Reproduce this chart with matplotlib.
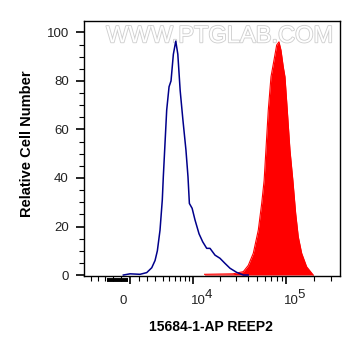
import numpy as np
import matplotlib
matplotlib.use("Agg")
import matplotlib.pyplot as plt
from matplotlib.ticker import FixedLocator, NullFormatter
from matplotlib import transforms
import matplotlib.patheffects as pe

# ---- data (fluorescence intensity, relative cell number) ----
blue_x = [-750, 0, 1120, 1910, 2530, 2960, 3270, 3640, 3970, 4120, 4640, 5020,
          5350, 5760, 6200, 6590, 7060, 7630, 8310, 8790, 9130, 9830, 10610,
          11790, 12960, 14360, 15610, 17700, 20040, 22690, 25660, 30230, 35570, 40000]
blue_y = [0, 0.5, 0.3, 1.0, 3.0, 6.0, 10.0, 18.5, 31.0, 40.5, 68.0, 77.6,
          80.0, 91.0, 96.4, 91.0, 76.0, 64.0, 51.5, 40.5, 29.5, 27.5, 22.7,
          17.0, 13.7, 11.0, 11.0, 8.2, 6.9, 4.8, 2.8, 1.1, 0.0, 0.0]

red_x = [13600, 27650, 35570, 40160, 45360, 51200, 55610, 59000, 65270,
         69690, 74980, 80000, 84590, 88780, 93890, 97840, 103450, 110450,
         118500, 126820, 135060, 146600, 165460, 194170]
red_y = [0.3, 0.5, 1.4, 4.0, 9.0, 18.5, 29.5, 39.0, 68.0,
         81.7, 88.6, 94.8, 96.1, 92.7, 85.8, 81.7, 68.0, 51.5,
         39.0, 25.4, 15.8, 9.0, 3.4, 0.0]

# events piled at the axis just below zero
below_zero_x = [-2700, -250]

y_ticks = [0, 20, 40, 60, 80, 100]
y_minor = [5, 10, 15, 25, 30, 35, 45, 50, 55, 65, 70, 75, 85, 90, 95]
x_major = [0, 1e4, 1e5]
x_major_base = ["0", "10", "10"]
x_major_exp = ["", "4", "5"]
x_minor = ([-5000, -4000, -3000, -2000, -1000] +
           [1000 * k for k in range(1, 10)] +
           [1e4 * k for k in range(2, 10)] +
           [1e5 * k for k in range(2, 4)])

plt.rcParams['font.family'] = ['Liberation Sans', 'DejaVu Sans']

C = 4600.0
def fwd(x):
    return np.arcsinh(np.asarray(x, dtype=float) / C)
def inv(u):
    return C * np.sinh(np.asarray(u, dtype=float))

fig = plt.figure(figsize=(3.61, 3.56), dpi=100)
ax = fig.add_axes([0.2327, 0.2247, 0.709, 0.7163])
ax.set_xscale('function', functions=(fwd, inv))

ax.fill_between(red_x, red_y, 0, color='#ff0000', lw=0, zorder=2)
ax.plot(red_x, red_y, color='#ff0000', lw=0.8, zorder=2)
ax.plot(blue_x, blue_y, color='#00008b', lw=1.1, zorder=3)

ax.set_xlim(-6255, 370500)
ax.set_ylim(-0.4, 104.7)

ax.xaxis.set_major_locator(FixedLocator(x_major))
ax.xaxis.set_major_formatter(NullFormatter())
ax.xaxis.set_minor_locator(FixedLocator(x_minor))
ax.set_yticks(y_ticks)
ax.yaxis.set_minor_locator(FixedLocator(y_minor))

ax.tick_params(axis='both', which='major', direction='out', length=6, width=1.2,
               labelsize=9.5, colors='black')
ax.tick_params(axis='y', which='major', pad=5, labelcolor='#222222')
ax.tick_params(axis='both', which='minor', direction='out', length=3.5, width=0.8)
for s in ax.spines.values():
    s.set_linewidth(1.0)

trans = transforms.blended_transform_factory(ax.transData, ax.transAxes)
ax.plot(below_zero_x, [-0.014, -0.014], transform=trans, color='black', lw=2.8,
        clip_on=False, solid_capstyle='butt', zorder=4)

# x tick labels (base + raised exponent)
for xv, base, ex in zip(x_major, x_major_base, x_major_exp):
    if ex:
        off = transforms.ScaledTranslation(-1.5 / 100, 0, fig.dpi_scale_trans)
        ax.text(xv, -0.110, base, transform=trans + off, ha='left', va='baseline',
                fontsize=9.5, color='#222222')
        off2 = transforms.ScaledTranslation(12 / 100, 0, fig.dpi_scale_trans)
        ax.text(xv, -0.086, ex, transform=trans + off2, ha='left', va='baseline',
                fontsize=9.5, color='#222222')
    else:
        off = transforms.ScaledTranslation(-7 / 100, 0, fig.dpi_scale_trans)
        ax.text(xv, -0.110, base, transform=trans + off, ha='center', va='baseline',
                fontsize=9.5, color='#222222')

ax.set_xlabel("15684-1-AP REEP2", fontsize=10, fontweight='bold', va='center')
ax.xaxis.set_label_coords(0.496, -0.2)
ax.set_ylabel("Relative Cell Number", fontsize=10.5, fontweight='bold', va='center')
ax.yaxis.set_label_coords(-0.223, 0.52)

ax.text(0.529, 0.94, "WWW.PTGLAB.COM", transform=ax.transAxes, ha='center', va='center',
        fontsize=17, color='white', zorder=1,
        path_effects=[pe.withStroke(linewidth=1.3, foreground='#d0d0d0')])

fig.savefig("out.png", dpi=100)
